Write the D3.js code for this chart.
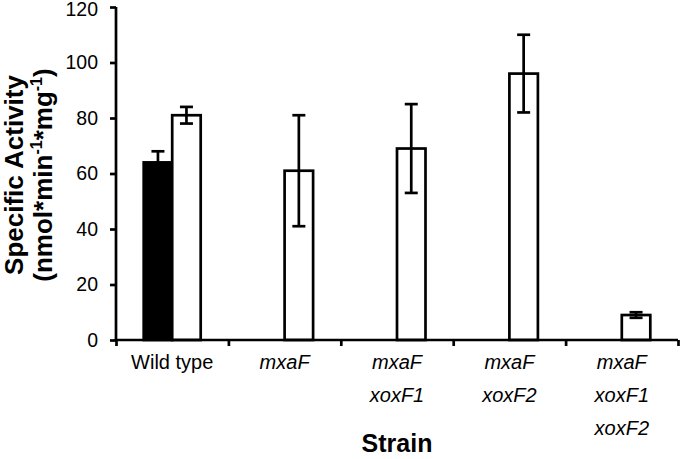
<!DOCTYPE html>
<html>
 <head>
 <title>Specific Activity by Strain</title>
 <meta charset="UTF-8">
 <style type="text/css">
   body { margin: 0; background: #fff; }
   text { font-family: "Liberation Sans", Arial, sans-serif; fill: #000; }
 </style>
 <script src="https://d3js.org/d3.v7.min.js"></script>
 </head>
 <body>
 <script type="text/javascript">

    // data
    var strains = ["Wild type", "mxaF", "mxaF xoxF1", "mxaF xoxF2", "mxaF xoxF1 xoxF2"];
    var strainLines = [["Wild type"], ["mxaF"], ["mxaF", "xoxF1"], ["mxaF", "xoxF2"], ["mxaF", "xoxF1", "xoxF2"]];
    var strainItalic = [false, true, true, true, true];
    var blackValues = [64, null, null, null, null];
    var blackErrors = [4, null, null, null, null];
    var whiteValues = [81, 61, 69, 96, 9];
    var whiteErrors = [3, 20, 16, 14, 1];
    var yTicks = [0, 20, 40, 60, 80, 100, 120];

    var margin = {top: 7, right: 2, bottom: 119, left: 116},
        width = 680 - margin.left - margin.right,
        height = 459 - margin.top - margin.bottom;

    var svg = d3.select("body")
        .append("svg")
        .attr("width", 680)
        .attr("height", 459);

    var g = svg.append("g")
        .attr("transform", "translate(" + margin.left + "," + margin.top + ")");

    // scales
    var x = d3.scaleBand()
        .domain(strains)
        .range([0, width]);

    var sub = d3.scaleBand()
        .domain(["black", "white"])
        .range([x.bandwidth() / 2 - 28.5, x.bandwidth() / 2 + 28.5]);

    var y = d3.scaleLinear()
        .domain([0, 120])
        .range([height, 0]);

    var series = [
        {key: "black", fill: "#000", values: blackValues, errors: blackErrors},
        {key: "white", fill: "#fff", values: whiteValues, errors: whiteErrors}
    ];

    var bars = [];
    series.forEach(function(s) {
        strains.forEach(function(name, i) {
            if (s.values[i] != null) {
                bars.push({strain: name, key: s.key, fill: s.fill, value: s.values[i], err: s.errors[i]});
            }
        });
    });

    g.selectAll("rect.bar")
        .data(bars)
        .enter().append("rect")
        .attr("class", "bar")
        .attr("x", function(d) { return x(d.strain) + sub(d.key); })
        .attr("y", function(d) { return y(d.value); })
        .attr("width", sub.bandwidth())
        .attr("height", function(d) { return y(0) - y(d.value); })
        .attr("fill", function(d) { return d.fill; })
        .attr("stroke", "#000")
        .attr("stroke-width", 2.7);

    // error bars
    var cap = 6.5;
    var eb = g.selectAll("g.err")
        .data(bars)
        .enter().append("g")
        .attr("class", "err")
        .attr("transform", function(d) { return "translate(" + (x(d.strain) + sub(d.key) + sub.bandwidth() / 2) + ",0)"; })
        .attr("stroke", "#000")
        .attr("stroke-width", 2.7);

    eb.append("line")
        .attr("y1", function(d) { return y(d.value + d.err); })
        .attr("y2", function(d) { return y(d.value - d.err); });
    eb.append("line")
        .attr("x1", -cap).attr("x2", cap)
        .attr("y1", function(d) { return y(d.value + d.err); })
        .attr("y2", function(d) { return y(d.value + d.err); });
    eb.append("line")
        .attr("x1", -cap).attr("x2", cap)
        .attr("y1", function(d) { return y(d.value - d.err); })
        .attr("y2", function(d) { return y(d.value - d.err); });

    // y axis
    var yAxis = d3.axisLeft(y).tickValues(yTicks).tickSize(6).tickPadding(12);
    var ya = g.append("g").attr("class", "y axis").call(yAxis);
    ya.select(".domain").attr("stroke-width", 2.7).attr("d", "M0," + height + "V" + y(120));
    ya.selectAll(".tick line").attr("stroke-width", 2.7);
    ya.selectAll(".tick text")
        .style("font-family", "'Liberation Sans', Arial, sans-serif")
        .style("font-size", "19.5px")
        .attr("dy", function(d) { return d === 120 ? "0.42em" : "0.32em"; });

    // x axis: ticks at the category boundaries
    var xb = d3.scaleLinear().domain([0, strains.length]).range([0, width]);
    var xAxis = d3.axisBottom(xb).tickValues(d3.range(strains.length + 1)).tickSize(6).tickFormat("");
    var xa = g.append("g")
        .attr("class", "x axis")
        .attr("transform", "translate(0," + height + ")")
        .call(xAxis);
    xa.select(".domain").attr("stroke-width", 2.7).attr("d", "M-1.35,0H" + width);
    xa.selectAll(".tick line").attr("stroke-width", 2.7);

    // category labels
    var labels = g.selectAll("text.cat")
        .data(strains)
        .enter().append("text")
        .attr("class", "cat")
        .attr("text-anchor", "middle")
        .style("font-size", "20px")
        .style("font-style", function(d, i) { return strainItalic[i] ? "italic" : "normal"; })
        .attr("transform", function(d) { return "translate(" + (x(d) + x.bandwidth() / 2) + "," + (height + 29) + ")"; });

    labels.selectAll("tspan")
        .data(function(d, i) { return strainLines[i]; })
        .enter().append("tspan")
        .attr("x", 0)
        .attr("y", function(d, j) { return j * 32.8; })
        .text(function(d) { return d; });

    // axis titles
    svg.append("text")
        .attr("text-anchor", "middle")
        .attr("x", margin.left + width / 2)
        .attr("y", 452)
        .style("font-size", "25px")
        .style("font-weight", "bold")
        .text("Strain");

    svg.append("text")
        .attr("text-anchor", "middle")
        .attr("transform", "translate(23,175) rotate(-90)")
        .style("font-size", "26px")
        .style("font-weight", "bold")
        .text("Specific Activity");

    // second line with superscripts
    var unitParts = [["(nmol*min", false], ["-1", true], ["*mg", false], ["-1", true], [")", false]];
    var line2 = svg.append("text")
        .attr("text-anchor", "middle")
        .attr("transform", "translate(52,175) rotate(-90)")
        .style("font-size", "26px")
        .style("font-weight", "bold");
    unitParts.forEach(function(p, i) {
        line2.append("tspan")
            .attr("dy", p[1] ? -10 : (i > 0 ? 10 : 0))
            .style("font-size", p[1] ? "16px" : "26px")
            .text(p[0]);
    });

 </script>
 </body>
</html>
